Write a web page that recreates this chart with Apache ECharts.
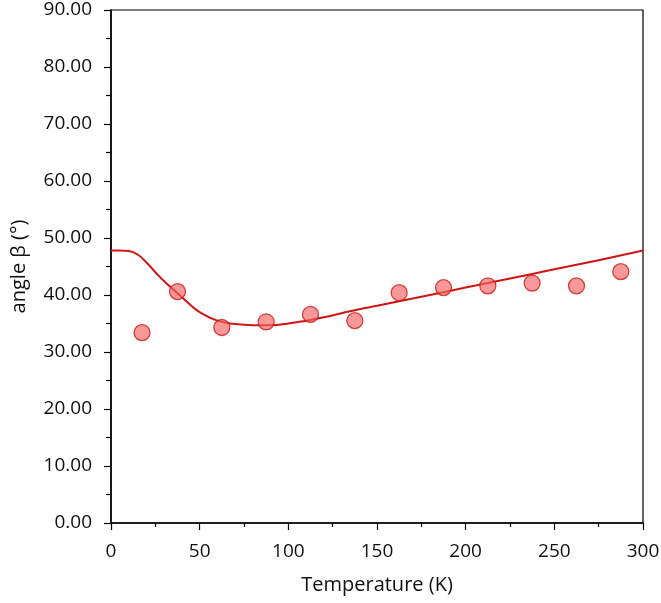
<!DOCTYPE html>
<html>
<head>
<meta charset="utf-8">
<script src="https://cdn.jsdelivr.net/npm/echarts@6/dist/echarts.min.js"></script>
<style>
  html, body { margin: 0; padding: 0; background: #fff; }
  #chart { width: 661px; height: 603px; }
</style>
</head>
<body>
<div id="chart"></div>
<script>
// measured points
const tempPoints = [17.5, 37.5, 62.5, 87.5, 112.5, 137.5, 162.5, 187.5, 212.5, 237.5, 262.5, 287.5]
const betaPoints = [33.4, 40.6, 34.3, 35.3, 36.6, 35.5, 40.4, 41.3, 41.6, 42.1, 41.6, 44.1]

// fitted curve
const tempCurve = [0, 5, 10, 15, 20, 25, 30, 35, 40, 45, 50, 60, 70, 80, 90, 100, 110, 120, 130, 140, 150, 175, 200, 225, 250, 275, 300]
const betaCurve = [47.8, 47.8, 47.7, 47.1, 45.7, 44.0, 42.4, 41.0, 39.6, 38.2, 37.0, 35.5, 34.9, 34.7, 34.7, 35.0, 35.5, 36.1, 36.8, 37.5, 38.1, 39.7, 41.3, 42.9, 44.5, 46.1, 47.8]

const chart = echarts.init(document.getElementById('chart'))

const font = 'Open Sans'

chart.setOption({
  animation: false,
  grid: {
    left: 111,
    right: 18,
    top: 10,
    bottom: 80,
    outerBoundsMode: 'none',
    containLabel: false,
    show: true,
    borderColor: '#000',
    borderWidth: 1.2
  },
  xAxis: {
    type: 'value',
    min: 0,
    max: 300,
    interval: 50,
    name: 'Temperature (K)',
    nameLocation: 'middle',
    nameGap: 52,
    nameTextStyle: { fontFamily: font, fontSize: 20, color: '#111' },
    axisLine: { show: true, onZero: false, lineStyle: { color: '#000', width: 1.5 } },
    axisTick: { show: true, length: 7, lineStyle: { color: '#000', width: 1.2 } },
    minorTick: { show: true, splitNumber: 2, length: 4, lineStyle: { color: '#000', width: 1.2 } },
    axisLabel: { fontFamily: font, fontSize: 19, color: '#111', margin: 19 },
    splitLine: { show: false }
  },
  yAxis: {
    type: 'value',
    min: 0,
    max: 90,
    interval: 10,
    name: 'angle β (°)',
    nameLocation: 'middle',
    nameGap: 82,
    nameTextStyle: { fontFamily: font, fontSize: 20, color: '#111' },
    axisLine: { show: true, onZero: false, lineStyle: { color: '#000', width: 1.5 } },
    axisTick: { show: true, length: 7, lineStyle: { color: '#000', width: 1.2 } },
    minorTick: { show: true, splitNumber: 2, length: 5, lineStyle: { color: '#000', width: 1.2 } },
    axisLabel: {
      fontFamily: font, fontSize: 19, color: '#111', margin: 19,
      formatter: v => v.toFixed(2)
    },
    splitLine: { show: false }
  },
  series: [
    {
      name: 'fit',
      type: 'line',
      data: tempCurve.map((t, i) => [t, betaCurve[i]]),
      smooth: 0.5,
      showSymbol: false,
      lineStyle: { color: '#d01515', width: 2 },
      z: 2
    },
    {
      name: 'data',
      type: 'scatter',
      data: tempPoints.map((t, i) => [t, betaPoints[i]]),
      symbolSize: 16,
      itemStyle: {
        color: 'rgba(245, 100, 100, 0.82)',
        borderColor: '#cc1a1a',
        borderWidth: 1.3
      },
      z: 3
    }
  ]
})
</script>
</body>
</html>
